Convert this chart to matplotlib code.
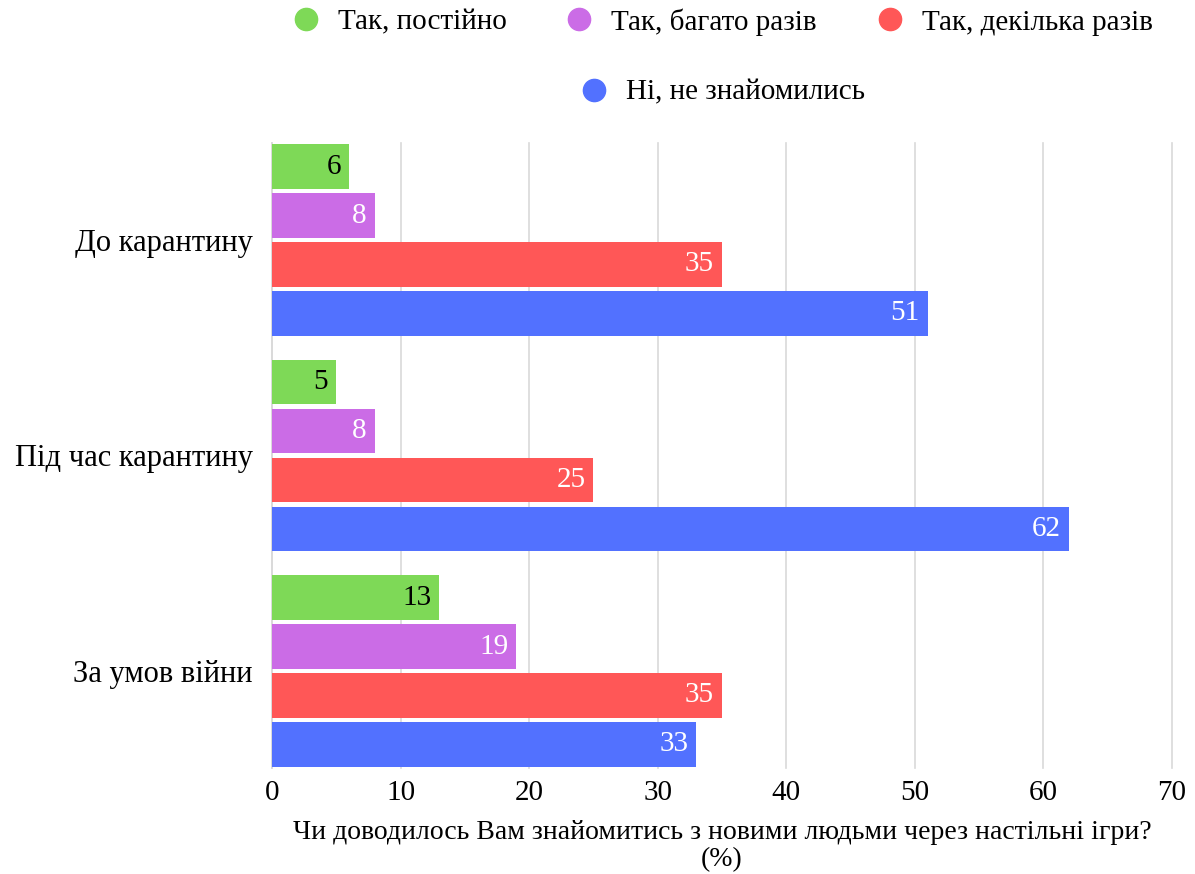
import matplotlib.pyplot as plt
import numpy as np
from matplotlib.lines import Line2D

plt.rcParams['font.family'] = ['Liberation Serif', 'DejaVu Serif']

# дані
categories = ['До карантину', 'Під час карантину', 'За умов війни']
series_names = ['Так, постійно', 'Так, багато разів', 'Так, декілька разів', 'Ні, не знайомились']
constantly = [6, 5, 13]
many_times = [8, 8, 19]
several_times = [35, 25, 35]
never = [51, 62, 33]
x_ticks = [0, 10, 20, 30, 40, 50, 60, 70]

colors = ['#7ED957', '#CB6CE6', '#FF5757', '#5271FF']
label_colors = ['black', 'white', 'white', 'white']
series = [constantly, many_times, several_times, never]

fig = plt.figure(figsize=(11.95, 8.74), dpi=100)
ax = fig.add_axes([0.2276, 0.1213, 0.7532, 0.7151])

y = np.arange(len(categories))
step = 0.227
height = 0.207
for i, vals in enumerate(series):
    pos = y + (i - 1.5) * step
    bars = ax.barh(pos, vals, height=height, color=colors[i], zorder=3)
    for b, v in zip(bars, vals):
        ax.annotate(str(v), (b.get_width(), b.get_y() + b.get_height() / 2),
                    xytext=(-8, 0), textcoords='offset pixels',
                    ha='right', va='center', fontsize=21,
                    color=label_colors[i], zorder=4)

ax.set_ylim(2.45, -0.45)
ax.set_xlim(0, 70)
ax.set_xticks(x_ticks)
ax.set_yticks(y)
ax.set_yticklabels(categories, fontsize=22)
ax.tick_params(axis='x', labelsize=21, length=0, pad=9)
ax.tick_params(axis='y', length=0, pad=14)
ax.grid(axis='x', color='#d9d9d9', linewidth=1.2, zorder=0, clip_on=False)
for s in ['top', 'right', 'bottom']:
    ax.spines[s].set_visible(False)
ax.spines['left'].set_color('#d9d9d9')
ax.spines['left'].set_linewidth(1.2)

ax.set_xlabel('Чи доводилось Вам знайомитись з новими людьми через настільні ігри?\n(%)',
              fontsize=20, labelpad=10, linespacing=1.1)

handles = [Line2D([], [], marker='o', linestyle='', markersize=16,
                  markerfacecolor=c, markeredgecolor=c) for c in colors]
fig.legend(handles[:3], series_names[:3], loc='center', ncol=3,
           bbox_to_anchor=(0.598, 0.975), frameon=False, fontsize=21,
           handletextpad=0.1, columnspacing=1.5)
fig.legend(handles[3:], series_names[3:], loc='center',
           bbox_to_anchor=(0.598, 0.894), frameon=False, fontsize=21,
           handletextpad=0.1)

fig.savefig('out.png', dpi=100)
